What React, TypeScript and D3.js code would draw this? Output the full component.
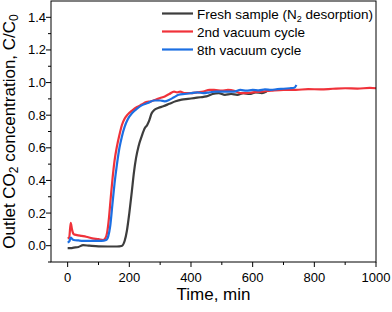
import React from "react";
import * as d3 from "d3";

// time (min) / C/C0 pairs
const freshT = [0, 10, 20, 35, 50, 70, 100, 130, 160, 175, 185, 192, 200, 208, 215, 222, 230, 240, 250, 258, 265, 272, 280, 295, 310, 330, 350, 370, 390, 410, 430, 450, 470, 490, 510, 530, 550, 570, 590, 610, 630, 645];
const freshY = [-0.015, -0.015, -0.012, -0.008, 0.003, 0.0, -0.004, -0.005, -0.005, -0.002, 0.03, 0.09, 0.2, 0.33, 0.45, 0.54, 0.61, 0.67, 0.72, 0.74, 0.77, 0.81, 0.83, 0.845, 0.855, 0.87, 0.885, 0.895, 0.9, 0.905, 0.91, 0.915, 0.93, 0.935, 0.925, 0.93, 0.925, 0.935, 0.93, 0.94, 0.935, 0.945];

const redT = [0, 5, 10, 14, 20, 30, 45, 60, 80, 100, 115, 122, 128, 134, 140, 146, 152, 160, 168, 176, 185, 195, 210, 225, 240, 255, 270, 285, 300, 315, 330, 345, 355, 365, 380, 400, 420, 440, 460, 475, 500, 520, 540, 560, 580, 600, 630, 660, 700, 740, 780, 820, 860, 900, 940, 980, 1000];
const redY = [0.045, 0.05, 0.14, 0.1, 0.07, 0.065, 0.06, 0.055, 0.045, 0.04, 0.035, 0.045, 0.08, 0.17, 0.3, 0.42, 0.52, 0.61, 0.68, 0.74, 0.78, 0.805, 0.83, 0.85, 0.865, 0.88, 0.885, 0.895, 0.905, 0.915, 0.93, 0.945, 0.94, 0.945, 0.935, 0.935, 0.94, 0.945, 0.955, 0.955, 0.95, 0.955, 0.95, 0.935, 0.935, 0.94, 0.945, 0.95, 0.955, 0.955, 0.96, 0.958, 0.962, 0.965, 0.963, 0.967, 0.965];

const blueT = [0, 5, 10, 15, 20, 35, 50, 80, 110, 125, 132, 138, 145, 152, 160, 168, 176, 185, 195, 210, 225, 240, 260, 280, 300, 315, 330, 345, 360, 380, 400, 420, 440, 460, 480, 500, 520, 540, 560, 580, 600, 620, 640, 660, 680, 700, 720, 735, 742];
const blueY = [0.02, 0.025, 0.05, 0.04, 0.035, 0.032, 0.03, 0.03, 0.03, 0.035, 0.06, 0.12, 0.25, 0.38, 0.5, 0.6, 0.67, 0.73, 0.775, 0.815, 0.84, 0.86, 0.875, 0.89, 0.89, 0.885, 0.895, 0.91, 0.925, 0.93, 0.935, 0.94, 0.935, 0.94, 0.945, 0.945, 0.945, 0.945, 0.955, 0.95, 0.955, 0.952, 0.958, 0.955, 0.96, 0.962, 0.965, 0.968, 0.985];

const seriesNames = ["Fresh sample (N2 desorption)", "2nd vacuum cycle", "8th vacuum cycle"];
const seriesColors = ["#3d3d3d", "#f0323a", "#1c6fe3"];

const xTicks = [0, 200, 400, 600, 800, 1000];
const yTicks = [0, 0.2, 0.4, 0.6, 0.8, 1.0, 1.2, 1.4];

const W = 392;
const H = 312;
const left = 51;
const right = 376;
const top = 1;
const bottom = 262;

export default function App() {
  const x = d3.scaleLinear().domain([-54, 1000]).range([left, right]);
  const y = d3.scaleLinear().domain([-0.1, 1.5]).range([bottom, top]);

  const line = d3
    .line<[number, number]>()
    .x((d) => x(d[0]))
    .y((d) => y(d[1]))
    .curve(d3.curveMonotoneX);

  const series = [
    d3.zip(freshT, freshY) as [number, number][],
    d3.zip(redT, redY) as [number, number][],
    d3.zip(blueT, blueY) as [number, number][],
  ];

  const xMinor = d3.range(100, 1000, 200);
  const yMinor = d3.range(-0.1, 1.5, 0.2).map((v) => +v.toFixed(1));

  const font = "Arial, 'Liberation Sans', sans-serif";

  return (
    <svg
      width={W}
      height={H}
      style={{ position: "absolute", left: 0, top: 0 }}
      fontFamily={font}
    >
      <rect width={W} height={H} fill="#fff" />
      {[0, 1, 2].map((i) => (
        <path
          key={i}
          d={line(series[i]) || ""}
          fill="none"
          stroke={seriesColors[i]}
          strokeWidth={2.2}
          strokeLinejoin="round"
        />
      ))}

      {/* frame */}
      <rect x={left} y={top} width={right - left} height={bottom - top} fill="none" stroke="#000" strokeWidth={1} />

      {/* x axis */}
      {xTicks.map((t) => (
        <g key={"x" + t}>
          <line x1={x(t)} x2={x(t)} y1={bottom} y2={bottom + 5} stroke="#000" />
          <text x={x(t)} y={bottom + 20} fontSize={13} textAnchor="middle">
            {t}
          </text>
        </g>
      ))}
      {xMinor.map((t) => (
        <line key={"xm" + t} x1={x(t)} x2={x(t)} y1={bottom} y2={bottom + 3} stroke="#000" />
      ))}
      <text x={(left + right) / 2} y={300} fontSize={17} textAnchor="middle">
        Time, min
      </text>

      {/* y axis */}
      {yTicks.map((t) => (
        <g key={"y" + t}>
          <line x1={left - 5} x2={left} y1={y(t)} y2={y(t)} stroke="#000" />
          <text x={left - 5} y={y(t) + 4.5} fontSize={13} textAnchor="end">
            {t.toFixed(1)}
          </text>
        </g>
      ))}
      {yMinor.map((t) => (
        <line key={"ym" + t} x1={left - 3} x2={left} y1={y(t)} y2={y(t)} stroke="#000" />
      ))}
      <text
        transform={`translate(15, ${(top + bottom) / 2}) rotate(-90)`}
        fontSize={17}
        textAnchor="middle"
      >
        Outlet CO
        <tspan fontSize={12} dy={3}>2</tspan>
        <tspan dy={-3}> concentration, C/C</tspan>
        <tspan fontSize={12} dy={3}>0</tspan>
      </text>

      {/* legend */}
      {seriesNames.map((name, i) => {
        const ly = 13.5 + i * 18;
        return (
          <g key={name}>
            <line x1={162} x2={193} y1={ly} y2={ly} stroke={seriesColors[i]} strokeWidth={2.2} />
            <text x={197} y={ly + 5} fontSize={13.5}>
              {i === 0 ? (
                <>
                  Fresh sample (N
                  <tspan fontSize={9} dy={3}>2</tspan>
                  <tspan dy={-3}> desorption)</tspan>
                </>
              ) : (
                name
              )}
            </text>
          </g>
        );
      })}
    </svg>
  );
}
